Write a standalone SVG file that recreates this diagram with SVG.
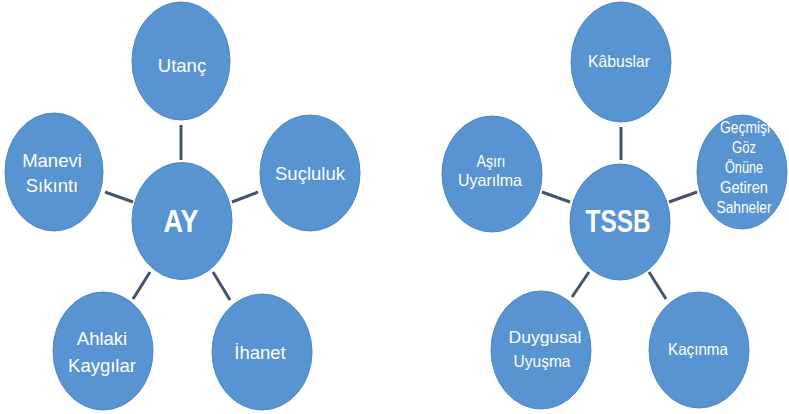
<svg xmlns="http://www.w3.org/2000/svg" width="789" height="414" viewBox="0 0 789 414">
<style>
.n{fill:#5894D1;stroke:#4E88C4;stroke-width:1}
.t{fill:#fff;font-family:"Liberation Sans",Arial,sans-serif;text-anchor:middle}
.l{font-size:18.5px}
.r{font-size:16.5px}
.s{font-size:16px}
.h{font-weight:bold;font-size:31px}
.c line{stroke:#44546A;stroke-width:3;stroke-linecap:butt}
</style>
<rect width="789" height="414" fill="#fff"/>
<g class="c" id="connectors">
<line x1="181" y1="125" x2="181" y2="160"/>
<line x1="105" y1="192" x2="133" y2="202"/>
<line x1="232" y1="202" x2="258" y2="192"/>
<line x1="150" y1="272" x2="133" y2="299"/>
<line x1="213" y1="272" x2="230" y2="300"/>
<line x1="621" y1="127" x2="621" y2="160"/>
<line x1="542" y1="192" x2="570" y2="202"/>
<line x1="669" y1="202" x2="697" y2="192"/>
<line x1="589" y1="272" x2="572" y2="297"/>
<line x1="649" y1="272" x2="666" y2="299"/>
</g>
<g id="utanc"><ellipse class="n" cx="181" cy="61" rx="49" ry="59"/><text class="t l" x="182" y="72">Utanç</text></g>
<g id="manevi"><ellipse class="n" cx="54" cy="172" rx="49" ry="59"/><text class="t l" x="52" y="167">Manevi</text><text class="t l" x="52" y="192">Sıkıntı</text></g>
<g id="sucluluk"><ellipse class="n" cx="310" cy="173" rx="50" ry="58"/><text class="t l" x="310" y="180">Suçluluk</text></g>
<g id="ay"><ellipse class="n" cx="182" cy="221" rx="50" ry="58.5"/><text class="t h" x="181" y="232" textLength="35" lengthAdjust="spacingAndGlyphs">AY</text></g>
<g id="ahlaki"><ellipse class="n" cx="103" cy="351" rx="50" ry="59"/><text class="t l" x="102" y="345">Ahlaki</text><text class="t l" x="102" y="372">Kaygılar</text></g>
<g id="ihanet"><ellipse class="n" cx="262" cy="352" rx="50" ry="58"/><text class="t l" x="260" y="359">İhanet</text></g>
<g id="kabuslar"><ellipse class="n" cx="621" cy="62" rx="50" ry="60"/><text class="t r" x="619" y="67" textLength="62" lengthAdjust="spacingAndGlyphs">Kâbuslar</text></g>
<g id="asiri"><ellipse class="n" cx="492" cy="174" rx="50" ry="58"/><text class="t r" x="491" y="167" textLength="29" lengthAdjust="spacingAndGlyphs">Aşırı</text><text class="t r" x="490" y="186" textLength="64" lengthAdjust="spacingAndGlyphs">Uyarılma</text></g>
<g id="gecmisi"><ellipse class="n" cx="742" cy="172" rx="45" ry="57"/><text class="t s" x="745" y="133" textLength="50" lengthAdjust="spacingAndGlyphs">Geçmişi</text><text class="t s" x="744" y="153" textLength="24" lengthAdjust="spacingAndGlyphs">Göz</text><text class="t s" x="744" y="173" textLength="38" lengthAdjust="spacingAndGlyphs">Önüne</text><text class="t s" x="744" y="193" textLength="48" lengthAdjust="spacingAndGlyphs">Getiren</text><text class="t s" x="744" y="213" textLength="55" lengthAdjust="spacingAndGlyphs">Sahneler</text></g>
<g id="tssb"><ellipse class="n" cx="620" cy="222" rx="50" ry="58"/><text class="t h" x="618" y="232" textLength="65" lengthAdjust="spacingAndGlyphs">TSSB</text></g>
<g id="duygusal"><ellipse class="n" cx="541" cy="350" rx="50" ry="59"/><text class="t r" x="545" y="343" textLength="73" lengthAdjust="spacingAndGlyphs">Duygusal</text><text class="t r" x="542" y="367" textLength="57" lengthAdjust="spacingAndGlyphs">Uyuşma</text></g>
<g id="kacinma"><ellipse class="n" cx="699" cy="350" rx="50" ry="58"/><text class="t r" x="698" y="355" textLength="60" lengthAdjust="spacingAndGlyphs">Kaçınma</text></g>
</svg>
